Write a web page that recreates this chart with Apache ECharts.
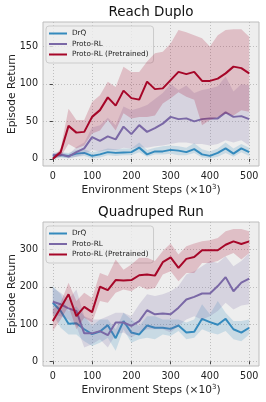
<!DOCTYPE html>
<html><head><meta charset="utf-8">
<script src="https://cdn.jsdelivr.net/npm/echarts@6/dist/echarts.min.js"></script>
<style>html,body{margin:0;padding:0;background:#fff}#c{width:266px;height:402px}</style>
</head><body><div id="c"></div>
<script>
// ---- shared ----
const steps = [0,20,40,60,80,100,120,140,160,180,200,220,240,260,280,300,320,340,360,380,400,420,440,460,480,500];
const xTicks = [0,100,200,300,400,500];
const seriesNames = ['DrQ','Proto-RL','Proto-RL (Pretrained)'];
const colors = ['#348ABD','#7A68A6','#A60628'];

// ---- Reach Duplo ----
const reachTitle = 'Reach Duplo';
const reachYTicks = [0,50,100,150];
const reachDrqMean = [4,5,4,7,8,4,6,9,8,8.5,9,15,6,10,10,12,11,9,13,6,4,8,14,7,14,9];
const reachDrqHi   = [8,9,8,12,13,9,11,14,13,14,14,22,12,15,17,18,17,15,21,13,10,14,22,14,20,15];
const reachDrqLo   = [0,2,1,3,4,1,2,5,4,5,5,9,3,6,6,7,5,5,8,2,1,3,8,3,9,4];
const reachProtoMean = [5,6,3,9,14,29,24,30,26,43,33,45,36,41,47,56,53,54,50,53,54,54,62,56,57,53];
const reachProtoHi   = [8,9,6,16,22,42,45,55,45,70,65,68,72,80,88,100,92,98,88,92,94,97,110,90,100,98];
const reachProtoLo   = [2,3,1,3,6,12,10,12,12,15,14,16,15,17,18,20,22,22,20,20,18,20,25,22,25,18];
const reachPreMean = [0,9,44,35,36,56,65,82,71,91,81,79,103,93,94,105,116,113,116,104,104,107,114,123,121,114];
const reachPreHi   = [2,14,67,52,52,76,85,103,96,123,116,116,130,141,143,154,172,169,165,161,150,165,172,173,173,163];
const reachPreLo   = [0,3,20,14,18,34,38,52,38,61,54,56,56,58,74,81,89,83,79,45,52,56,61,58,65,63];

// ---- Quadruped Run ----
const runTitle = 'Quadruped Run';
const runYTicks = [0,100,200,300];
const runDrqMean = [157,135,101,102,86,73,80,97,62,108,77,72,96,90,90,87,96,77,79,114,105,98,114,86,77,90];
const runDrqHi   = [202,180,135,148,121,95,112,112,86,130,112,95,121,121,112,112,112,104,112,153,126,162,130,108,108,112];
const runDrqLo   = [126,90,72,72,54,41,50,63,28,86,50,59,63,59,72,68,81,59,63,86,77,72,81,59,54,72];
const runProtoMean = [160,153,142,135,75,75,81,70,104,104,95,108,137,126,128,126,144,166,173,182,182,202,226,188,211,222];
const runProtoHi   = [197,184,166,193,121,112,112,121,130,130,121,153,180,175,180,188,202,233,242,255,269,264,282,255,269,291];
const runProtoLo   = [126,121,112,95,37,46,59,37,72,77,63,77,86,86,86,77,95,112,121,112,121,135,157,139,150,153];
const runPreMean = [108,144,180,121,146,132,200,191,218,217,218,231,233,230,266,279,251,275,280,298,298,298,313,322,315,322];
const runPreHi   = [139,157,211,162,184,170,237,229,273,246,260,278,278,269,296,316,287,309,316,322,325,331,349,355,355,349];
const runPreLo   = [81,112,148,86,117,104,162,157,184,193,188,202,193,197,233,242,215,237,237,264,264,269,282,291,273,291];

const FONT = "'DejaVu Sans', sans-serif";
function hexA(h, a){const n=parseInt(h.slice(1),16);return `rgba(${n>>16},${(n>>8)&255},${n&255},${a})`;}

function band(name, idx, lo, hi, color, z){
  return {
    type:'custom', name: name + ' band', xAxisIndex: idx, yAxisIndex: idx, z: z, silent:true,
    data: steps.map((s,i)=>[s, lo[i], hi[i]]),
    encode:{x:0, y:[1,2]},
    renderItem: function(params, api){
      if (params.dataIndex !== 0) return null;
      const pts = [];
      for (let i=0;i<steps.length;i++) pts.push(api.coord([steps[i], hi[i]]));
      for (let i=steps.length-1;i>=0;i--) pts.push(api.coord([steps[i], lo[i]]));
      return {type:'polygon', shape:{points:pts}, style:{fill: hexA(color,0.2), stroke:null}};
    }
  };
}
function line(name, idx, vals, color, z){
  return {
    type:'line', name:name, xAxisIndex:idx, yAxisIndex:idx, z:z,
    data: steps.map((s,i)=>[s, vals[i]]), symbol:'none', showSymbol:false,
    lineStyle:{color:color, width:2}, itemStyle:{color:color}, animation:false
  };
}
function xAx(idx){
  return {
    type:'value', gridIndex:idx, min:-25, max:525,
    name:'Environment Steps (×10{sup|3})', nameLocation:'middle', nameGap:18, nameMoveOverlap:false,
    nameTextStyle:{fontFamily:FONT, fontSize:10.6, color:'#222',
      rich:{sup:{fontFamily:FONT, fontSize:7, color:'#222', verticalAlign:'top', padding:[0,0,5,0]}}},
    axisLine:{show:false},
    axisTick:{show:true, length:3, lineStyle:{color:'#444', width:1}, customValues:xTicks},
    axisLabel:{fontFamily:FONT, fontSize:9.6, color:'#222', margin:5, customValues:xTicks},
    splitLine:{show:true, lineStyle:{color:'#b2b2b2', type:[1,2], width:0.8}}
  };
}
function yAx(idx, min, max, ticks){
  return {
    type:'value', gridIndex:idx, min:min, max:max,
    name:'Episode Return', nameLocation:'middle', nameGap:25, nameMoveOverlap:false,
    nameTextStyle:{fontFamily:FONT, fontSize:10.6, color:'#222'},
    axisLine:{show:false},
    axisTick:{show:true, length:3, lineStyle:{color:'#444', width:1}, customValues:ticks},
    axisLabel:{fontFamily:FONT, fontSize:9.6, color:'#222', margin:5, customValues:ticks},
    splitLine:{show:true, lineStyle:{color:'#b2b2b2', type:[1,2], width:0.8}}
  };
}
function legend(top){
  return {
    data: seriesNames, orient:'vertical', left:46, top:top, icon:'rect',
    itemWidth:18, itemHeight:2, itemGap:1.5,
    padding:[3,5,4,3], backgroundColor:'rgba(238,238,238,0.8)', borderColor:'#cccccc',
    borderWidth:1, borderRadius:3, selectedMode:false,
    textStyle:{fontFamily:FONT, fontSize:7.3, color:'#222', lineHeight:9}
  };
}

const chart = echarts.init(document.getElementById('c'), null, {renderer:'canvas'});
const grid = (top)=>({left:43, top:top, width:216, height:144, show:true, backgroundColor:'#eeeeee',
  borderColor:'#bcbcbc', borderWidth:1, containLabel:false, outerBoundsMode:'none'});

const sets = [
  [reachDrqMean,reachDrqLo,reachDrqHi, reachProtoMean,reachProtoLo,reachProtoHi, reachPreMean,reachPreLo,reachPreHi],
  [runDrqMean,runDrqLo,runDrqHi, runProtoMean,runProtoLo,runProtoHi, runPreMean,runPreLo,runPreHi]
];
const series = [];
sets.forEach((s, g)=>{
  for (let k=0;k<3;k++){
    series.push(band(seriesNames[k], g, s[3*k+1], s[3*k+2], colors[k], 2+k*2));
    series.push(line(seriesNames[k], g, s[3*k], colors[k], 3+k*2));
  }
});

chart.setOption({
  animation:false,
  backgroundColor:'#ffffff',
  title:[
    {text:reachTitle, left:151, top:5, textAlign:'center', padding:0,
     textStyle:{fontFamily:FONT, fontSize:13.5, fontWeight:'normal', color:'#111'}},
    {text:runTitle, left:151, top:205, textAlign:'center', padding:0,
     textStyle:{fontFamily:FONT, fontSize:13.5, fontWeight:'normal', color:'#111'}}
  ],
  legend:[legend(26), legend(226)],
  grid:[grid(22), grid(222)],
  xAxis:[xAx(0), xAx(1)],
  yAxis:[yAx(0,-9.5,182.5,reachYTicks), yAx(1,-12.7,374,runYTicks)],
  series: series
});
</script></body></html>
